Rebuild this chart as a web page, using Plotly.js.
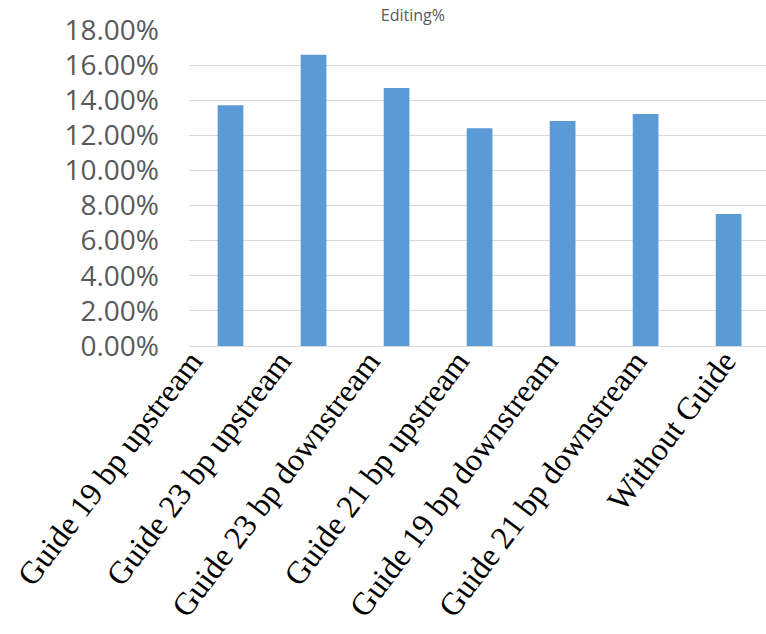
<!DOCTYPE html>
<html>
<head>
<meta charset="utf-8">
<script src="https://cdn.plot.ly/plotly-3.0.1.min.js"></script>
<style>html,body{margin:0;padding:0;background:#fff;}#chart{width:766px;height:634px;}</style>
</head>
<body>
<div id="chart"></div>
<script>
const categories = [
  "Guide 19 bp upstream",
  "Guide 23 bp upstream",
  "Guide 23 bp downstream",
  "Guide 21 bp upstream",
  "Guide 19 bp downstream",
  "Guide 21 bp downstream",
  "Without Guide"
];
const editing = [0.1372, 0.1659, 0.1469, 0.1240, 0.1281, 0.1321, 0.0752];
const yTicks = [0, 0.02, 0.04, 0.06, 0.08, 0.10, 0.12, 0.14, 0.16, 0.18];

const bars = {
  type: 'bar',
  x: categories,
  y: editing,
  marker: {color: '#5b9bd5'},
  hoverinfo: 'x+y'
};

// invisible companion trace that carries the category tick labels
// (the reference labels are spaced slightly wider than the bars)
const labelCarrier = {
  type: 'scatter',
  mode: 'markers',
  x: categories,
  y: editing,
  xaxis: 'x2',
  yaxis: 'y',
  marker: {opacity: 0},
  hoverinfo: 'skip',
  showlegend: false
};

const labelFont = {family: 'Liberation Serif, serif', size: 32, color: '#000000'};

const layout = {
  width: 766,
  height: 634,
  margin: {l: 189, r: 0, t: 30, b: 288},
  paper_bgcolor: '#ffffff',
  plot_bgcolor: '#ffffff',
  bargap: 0.69,
  showlegend: false,
  title: {
    text: 'Editing%',
    font: {family: 'Open Sans, sans-serif', size: 16, color: '#595959'},
    x: 0.539, xref: 'container', xanchor: 'center',
    y: 0.976, yref: 'container', yanchor: 'middle'
  },
  xaxis: {
    type: 'category',
    range: [-0.5, 6.45],
    showticklabels: false,
    showgrid: false,
    showline: true,
    linecolor: '#d9d9d9',
    linewidth: 1,
    ticks: '',
    automargin: false
  },
  xaxis2: {
    type: 'category',
    overlaying: 'x',
    anchor: 'y',
    side: 'bottom',
    range: [-0.0225, 6.468],
    tickangle: -53,
    tickfont: labelFont,
    ticklabelstandoff: -11,
    showgrid: false,
    showline: false,
    zeroline: false,
    ticks: '',
    automargin: false
  },
  yaxis: {
    range: [0, 0.18],
    tickvals: yTicks,
    tickformat: '.2%',
    tickfont: {family: 'Open Sans, sans-serif', size: 28, color: '#595959'},
    ticklabelstandoff: 29,
    showgrid: true,
    gridcolor: '#d9d9d9',
    gridwidth: 1,
    zeroline: false,
    showline: false,
    ticks: '',
    ticklen: 0,
    automargin: false
  }
};

Plotly.newPlot('chart', [bars, labelCarrier], layout, {displayModeBar: false, staticPlot: true});
</script>
</body>
</html>
